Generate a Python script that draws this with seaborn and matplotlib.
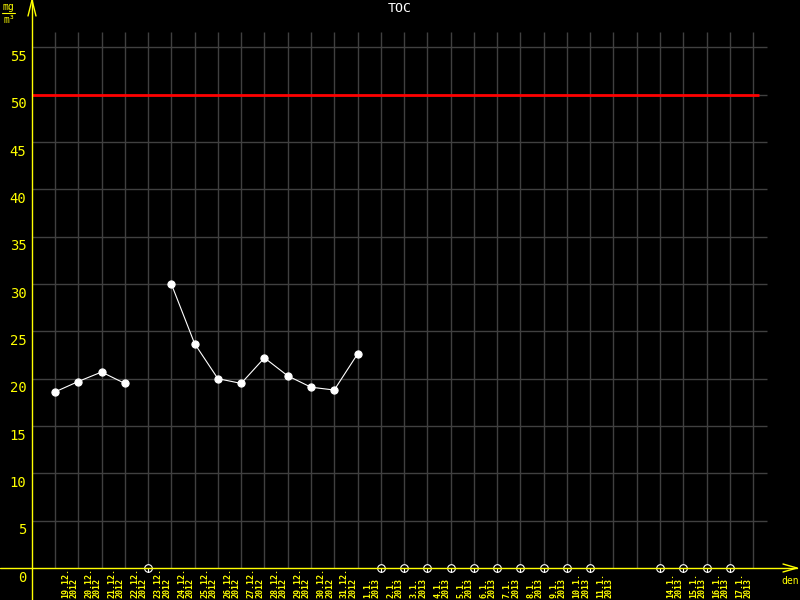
import numpy as np
import pandas as pd
import matplotlib.pyplot as plt
import seaborn as sns
import matplotlib.transforms as mtransforms
from matplotlib.lines import Line2D
from matplotlib.path import Path

# ------------------------------------------------------------
# Data
# ------------------------------------------------------------
day_labels = [
    "19.12.\n2012", "20.12.\n2012", "21.12.\n2012", "22.12.\n2012",
    "23.12.\n2012", "24.12.\n2012", "25.12.\n2012", "26.12.\n2012",
    "27.12.\n2012", "28.12.\n2012", "29.12.\n2012", "30.12.\n2012",
    "31.12.\n2012", "1.1.\n2013", "2.1.\n2013", "3.1.\n2013",
    "4.1.\n2013", "5.1.\n2013", "6.1.\n2013", "7.1.\n2013",
    "8.1.\n2013", "9.1.\n2013", "10.1.\n2013", "11.1.\n2013",
    "", "", "14.1.\n2013", "15.1.\n2013", "16.1.\n2013", "17.1.\n2013",
]
toc_values = [
    18.6, 19.7, 20.7, 19.5, np.nan, 30.0, 23.7, 20.0, 19.5, 22.2,
    20.3, 19.1, 18.8, 22.6, np.nan, np.nan, np.nan, np.nan, np.nan, np.nan,
    np.nan, np.nan, np.nan, np.nan, np.nan, np.nan, np.nan, np.nan, np.nan, np.nan,
]
y_ticks = [0, 5, 10, 15, 20, 25, 30, 35, 40, 45, 50, 55]
limit_value = 50

YELLOW = "#ffff00"
GRID = "#404040"
W, H = 800, 600

sns.set_style("white")
plt.rcParams["font.family"] = ["DejaVu Sans Mono", "DejaVu Sans"]


def px(x, y):
    """pixel (from top-left) -> figure fraction"""
    return x / W, 1 - y / H


df = pd.DataFrame({"pos": np.arange(len(toc_values)), "toc": toc_values,
                   "label": day_labels})
df["segment"] = df["toc"].isna().cumsum()
missing = df[df["toc"].isna() & (df["label"] != "")].assign(zero=0.0)

fig = plt.figure(figsize=(8, 6), dpi=100, facecolor="black")
ax = fig.add_axes([32 / W, 32 / H, (795 - 32) / W, 568 / H])
ax.set_facecolor("black")

step = 23.27
x_lo = (32 - 55) / step
x_hi = (795 - 55) / step
ax.set_xlim(x_lo, x_hi)
ax.set_ylim(0, 60)
for s in ax.spines.values():
    s.set_visible(False)

# grid
grid_top = (568 - 32) / (568 / 60)
ax.vlines(np.arange(31), 0, grid_top, color=GRID, lw=1.0, zorder=1)
ax.hlines(y_ticks[1:], x_lo, (767 - 55) / step, color=GRID, lw=1.0, zorder=1)

# limit line
ax.hlines(limit_value, x_lo, (759 - 55) / step, color="#ff0000", lw=2.0, zorder=2)

# data
sns.lineplot(data=df.dropna(subset=["toc"]), x="pos", y="toc", units="segment",
             estimator=None, color="white", lw=0.8, marker="o", markersize=5.2,
             markeredgecolor="white", markerfacecolor="white", ax=ax, zorder=3)

# missing-day markers
stem_marker = Path.make_compound_path(
    Path.unit_circle(), Path([(0, 0), (0, -1)], [Path.MOVETO, Path.LINETO]))
sns.scatterplot(data=missing, x="pos", y="zero", marker=stem_marker, s=30,
                facecolor="black", edgecolor="white", linewidth=0.8,
                ax=ax, clip_on=False, zorder=4)

# ticks
ax.set_xticks(np.arange(31))
ax.set_xticklabels([])
ax.tick_params(axis="x", colors=YELLOW, length=3, width=0.8, direction="out")
ax.set_yticks(y_ticks)
ax.set_yticklabels([str(v) for v in y_ticks])
ax.tick_params(axis="y", colors=YELLOW, labelcolor=YELLOW, length=3,
               width=0.8, direction="out", pad=1, labelsize=10)
offset = mtransforms.ScaledTranslation(0, -2 / 72, fig.dpi_scale_trans)
for lbl in ax.get_yticklabels():
    lbl.set_va("top")
    lbl.set_transform(lbl.get_transform() + offset)
ax.set_xlabel("")
ax.set_ylabel("")

# day labels below the axis
trans = mtransforms.blended_transform_factory(ax.transData, fig.transFigure)
for p, lab in zip(df["pos"], df["label"]):
    if lab:
        ax.text(p + 0.62, 2 / H, lab, transform=trans, rotation=90,
                ha="center", va="bottom", multialignment="left",
                fontsize=6.0, fontweight="bold", color=YELLOW,
                linespacing=0.9, clip_on=False)

# axis lines with arrows
axis_lines = [
    ((32, 32), (0, 600)), ((0, 797), (568, 568)),
    ((32, 28), (0, 16)), ((32, 36), (0, 16)),
    ((797, 783), (568, 564)), ((797, 783), (568, 572)),
]
for xs, ys in axis_lines:
    pts = [px(x, y) for x, y in zip(xs, ys)]
    fig.add_artist(Line2D([pts[0][0], pts[1][0]], [pts[0][1], pts[1][1]],
                          transform=fig.transFigure, color=YELLOW, lw=1.0,
                          zorder=10))

# unit label mg/m3
fig.text(*px(8, 7), "mg", color=YELLOW, fontsize=7, ha="center", va="center")
fig.add_artist(Line2D([2 / W, 15 / W], [1 - 13 / H, 1 - 13 / H],
                      transform=fig.transFigure, color=YELLOW, lw=0.8))
fig.text(*px(9, 20), "m³", color=YELLOW, fontsize=7, ha="center", va="center")

fig.text(*px(790, 581), "den", color=YELLOW, fontsize=7, ha="center", va="center")
fig.text(*px(400, 8), "TOC", color="white", fontsize=9.5, ha="center", va="center")

fig.savefig("out.png", dpi=100, facecolor="black")
